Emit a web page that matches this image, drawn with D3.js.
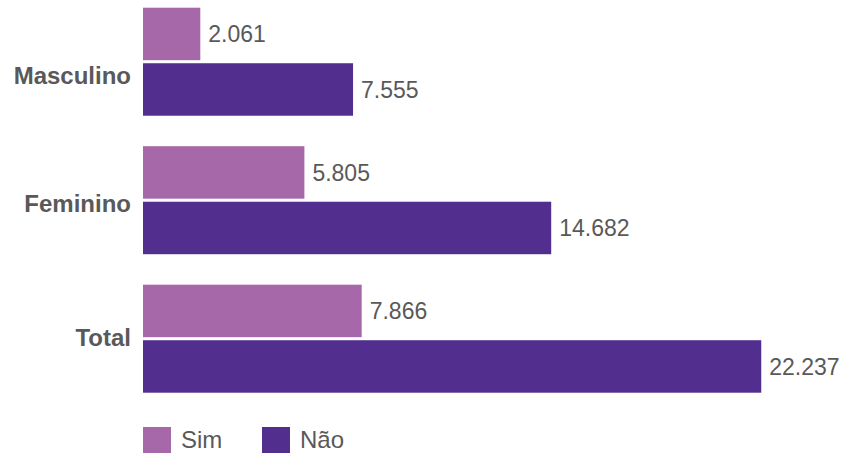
<!DOCTYPE html>
<html>
<head>
<meta charset="utf-8">
<script src="https://cdn.jsdelivr.net/npm/d3@7"></script>
<style>
  html, body { margin: 0; padding: 0; background: #ffffff; }
  svg { display: block; }
  text { font-family: "Liberation Sans", Arial, Helvetica, sans-serif; }
</style>
</head>
<body>
<svg id="chart" width="847" height="455"></svg>
<script>
// ---- data ----
const categories = ["Masculino", "Feminino", "Total"];
const seriesNames = ["Sim", "Não"];
const simValues = [2061, 5805, 7866];
const naoValues = [7555, 14682, 22237];
const valueLabels = [["2.061", "7.555"], ["5.805", "14.682"], ["7.866", "22.237"]];

// ---- style / layout ----
const colors = { "Sim": "#a768aa", "Não": "#522e8e" };
const textColor = "#595959";
const left = 143;
const labelShift = [14, 3, -1]; // vertical nudges of category labels

const rows = categories.map((c, i) => ({
  category: c,
  values: [
    { key: "Sim", value: simValues[i], label: valueLabels[i][0] },
    { key: "Não", value: naoValues[i], label: valueLabels[i][1] }
  ]
}));

const svg = d3.select("#chart");

const x = d3.scaleLinear().domain([0, 22300]).range([left, left + 620]);
const y0 = d3.scaleBand().domain(categories).range([7.7, 392.7]).paddingInner(0.22).paddingOuter(0);
const y1 = d3.scaleBand().domain(seriesNames).range([0, y0.bandwidth()]).paddingInner(0.055);

const g = svg.selectAll("g.group").data(rows).enter().append("g")
  .attr("class", "group")
  .attr("transform", d => `translate(0,${y0(d.category)})`);

g.selectAll("rect").data(d => d.values).enter().append("rect")
  .attr("x", x(0))
  .attr("y", d => y1(d.key))
  .attr("width", d => x(d.value) - x(0))
  .attr("height", y1.bandwidth())
  .attr("fill", d => colors[d.key]);

g.selectAll("text.val").data(d => d.values).enter().append("text")
  .attr("class", "val")
  .attr("x", d => x(d.value) + 8)
  .attr("y", d => y1(d.key) + y1.bandwidth() / 2)
  .attr("dy", "0.36em")
  .attr("font-size", 23)
  .attr("fill", textColor)
  .text(d => d.label);

// category axis labels
svg.selectAll("text.cat").data(categories).enter().append("text")
  .attr("class", "cat")
  .attr("x", left - 12)
  .attr("y", (d, i) => y0(d) + y0.bandwidth() / 2 + labelShift[i])
  .attr("dy", "0.36em")
  .attr("text-anchor", "end")
  .attr("font-size", 24)
  .attr("font-weight", "bold")
  .attr("fill", textColor)
  .text(d => d);

// legend
const legendX = d3.scaleOrdinal().domain(seriesNames).range([143, 262]);
const lg = svg.selectAll("g.legend").data(seriesNames).enter().append("g")
  .attr("class", "legend")
  .attr("transform", d => `translate(${legendX(d)},427)`);
lg.append("rect").attr("width", 28).attr("height", 26).attr("fill", d => colors[d]);
lg.append("text")
  .attr("x", 38)
  .attr("y", 13)
  .attr("dy", "0.34em")
  .attr("font-size", 24)
  .attr("fill", textColor)
  .text(d => d);
</script>
</body>
</html>
